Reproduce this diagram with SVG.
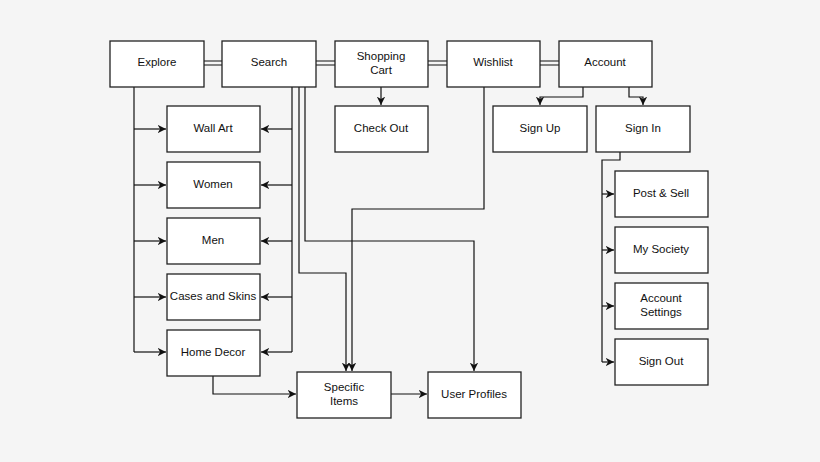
<svg xmlns="http://www.w3.org/2000/svg" width="820" height="462" viewBox="0 0 820 462">
<style>
rect.n{fill:#fff;stroke:#222;stroke-width:1.3}
text{font-family:"Liberation Sans",Arial,sans-serif;font-size:11.5px;fill:#111;text-anchor:middle}
.c path{fill:none;stroke:#111;stroke-width:1.2}
.c path.m{marker-end:url(#a)}
</style>
<defs><marker id="a" viewBox="0 0 10 10" refX="10" refY="5" markerWidth="7" markerHeight="7" orient="auto"><path d="M0,0L10,5L0,10L3,5z" fill="#111"/></marker></defs>
<rect width="820" height="462" fill="#f5f5f5"/>
<g class="c">
<path d="M204,61H222M204,65H222M316,61H335M316,65H335M428,61H447M428,65H447M540,61H559M540,65H559"/>
<path d="M134,87V352"/>
<path class="m" d="M134,129H166"/><path class="m" d="M134,185H166"/><path class="m" d="M134,241H166"/><path class="m" d="M134,297H166"/><path class="m" d="M134,352H166"/>
<path d="M292,87V352"/>
<path class="m" d="M292,129H261"/><path class="m" d="M292,185H261"/><path class="m" d="M292,241H261"/><path class="m" d="M292,297H261"/><path class="m" d="M292,352H261"/>
<path class="m" d="M299,87V273H346V371"/>
<path class="m" d="M305,87V241H474V371"/>
<path class="m" d="M484,87V209H352V371"/>
<path class="m" d="M213,376V394H296"/>
<path class="m" d="M391,394H427"/>
<path class="m" d="M381,87V105"/>
<path class="m" d="M583,87V97H540V105"/>
<path class="m" d="M629,87V97H643V105"/>
<path d="M620,152V160H602V362"/>
<path class="m" d="M602,194H614"/><path class="m" d="M602,250H614"/><path class="m" d="M602,306H614"/><path class="m" d="M602,362H614"/>
</g>
<g id="explore"><rect class="n" x="110" y="41" width="94" height="46"/><text x="157" y="66">Explore</text></g>
<g id="search"><rect class="n" x="222" y="41" width="94" height="46"/><text x="269" y="66">Search</text></g>
<g id="cart"><rect class="n" x="335" y="41" width="93" height="46"/><text x="381" y="60">Shopping</text><text x="381" y="74">Cart</text></g>
<g id="wishlist"><rect class="n" x="447" y="41" width="93" height="46"/><text x="493" y="66">Wishlist</text></g>
<g id="account"><rect class="n" x="559" y="41" width="93" height="46"/><text x="605" y="66">Account</text></g>
<g id="wallart"><rect class="n" x="167" y="106" width="93" height="46"/><text x="213" y="132">Wall Art</text></g>
<g id="women"><rect class="n" x="167" y="162" width="93" height="46"/><text x="213" y="188">Women</text></g>
<g id="men"><rect class="n" x="167" y="218" width="93" height="46"/><text x="213" y="244">Men</text></g>
<g id="cases"><rect class="n" x="167" y="274" width="93" height="46"/><text x="213" y="300">Cases and Skins</text></g>
<g id="homedecor"><rect class="n" x="167" y="330" width="93" height="46"/><text x="213" y="356">Home Decor</text></g>
<g id="checkout"><rect class="n" x="335" y="106" width="93" height="46"/><text x="381" y="132">Check Out</text></g>
<g id="signup"><rect class="n" x="493" y="106" width="94" height="46"/><text x="540" y="132">Sign Up</text></g>
<g id="signin"><rect class="n" x="596" y="106" width="94" height="46"/><text x="643" y="132">Sign In</text></g>
<g id="postsell"><rect class="n" x="615" y="171" width="93" height="46"/><text x="661" y="197">Post &amp; Sell</text></g>
<g id="mysociety"><rect class="n" x="615" y="227" width="93" height="46"/><text x="661" y="253">My Society</text></g>
<g id="settings"><rect class="n" x="615" y="283" width="93" height="46"/><text x="661" y="302">Account</text><text x="661" y="316">Settings</text></g>
<g id="signout"><rect class="n" x="615" y="339" width="93" height="46"/><text x="661" y="365">Sign Out</text></g>
<g id="specific"><rect class="n" x="297" y="372" width="94" height="46"/><text x="344" y="391">Specific</text><text x="344" y="405">Items</text></g>
<g id="profiles"><rect class="n" x="428" y="372" width="93" height="46"/><text x="474" y="398">User Profiles</text></g>
</svg>
